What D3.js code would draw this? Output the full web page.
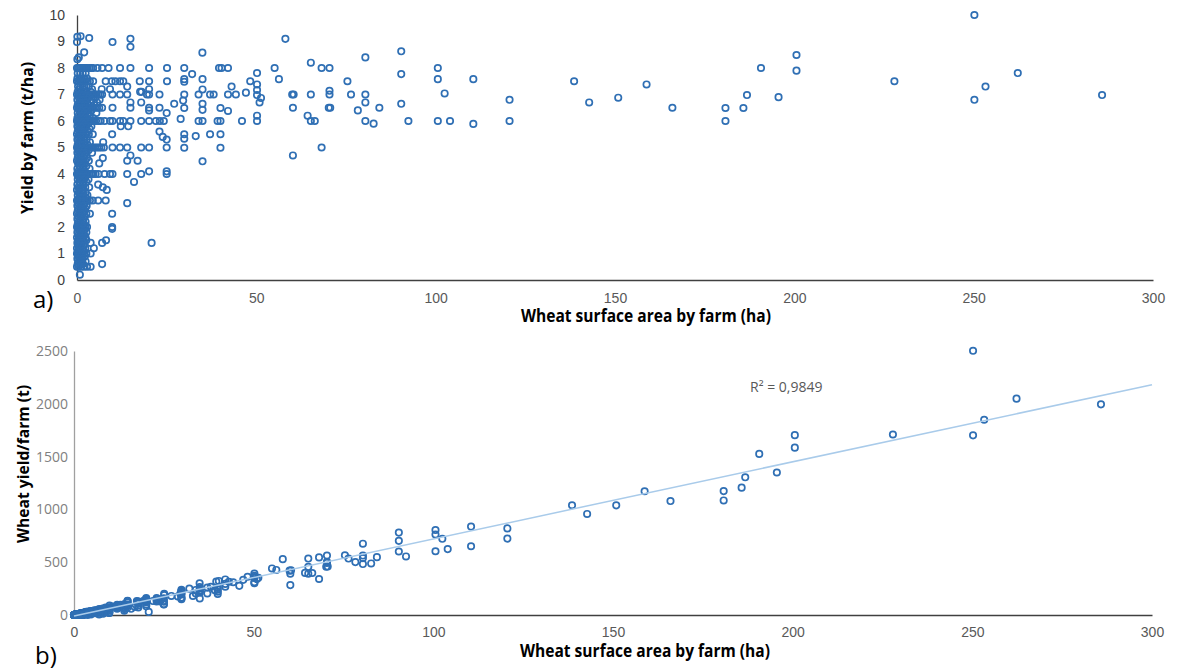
<!DOCTYPE html>
<html><head><meta charset="utf-8">
<script src="https://cdn.jsdelivr.net/npm/d3@7"></script>
<style>body{margin:0;background:#fff}svg{display:block}</style>
</head><body><svg id="c" width="1180" height="670"></svg>
<script>
// ---------- labels & ticks ----------
const xTicks = [0, 50, 100, 150, 200, 250, 300];
const yTicksA = [0, 1, 2, 3, 4, 5, 6, 7, 8, 9, 10];
const yTicksB = [0, 500, 1000, 1500, 2000, 2500];
const xTitle = "Wheat surface area by farm (ha)";
const yTitleA = "Yield by farm (t/ha)";
const yTitleB = "Wheat yield/farm (t)";
const panelA = "a)";
const panelB = "b)";
const r2Label = "R² = 0,9849";

// ---------- data: yield (t/ha) rows with farm areas (ha) ----------
const yieldRows = [
  [9.2, [1.0]], [9.18, [0.1]], [9.13, [3.4]], [9.1, [14.9]], [8.98, [0, 9.9]], [8.8, [14.9]],
  [8.59, [2.0]], [8.4, [0.5]], [8.33, [0.1]],
  [8.0, [0, 0.3, 0.6, 1, 1.4, 1.8, 2.2, 2.6, 3, 3.5, 4, 4.5, 5.7, 7, 8.8, 12, 14.9, 20.1, 25.1]],
  [7.8, [0.2, 0.9, 1.6, 2.4]],
  [7.6, [0.1, 0.7, 1.3, 2, 2.8]],
  [7.5, [0, 0.5, 1.1, 1.7, 2.3, 3, 3.6, 4.5, 8, 9.7, 10.7, 12, 12.9, 17.5, 20.1, 25.1]],
  [7.3, [0.3, 0.9, 1.5, 2.1, 2.7, 3.3, 14]],
  [7.2, [0.6, 1.8, 4.2, 6.9, 9.2, 20.1]],
  [7.1, [0.2, 1.2, 2.5, 3.8, 17.6, 18]],
  [7.0, [0, 0.4, 0.8, 1.2, 1.6, 2, 2.4, 2.8, 3.2, 3.6, 4, 4.5, 5, 5.5, 6, 6.5, 7, 9.9, 12, 14, 19.5, 20.1, 23]],
  [6.9, [0.5, 1.4, 2.2, 3.4, 5.2]],
  [6.8, [0.1, 1, 1.9, 2.9, 4.1, 6.3]],
  [6.7, [0.6, 1.5, 2.4, 3.7, 5.6, 14.9, 17.9]],
  [6.6, [0.2, 1.1, 2, 3, 4.8]],
  [6.5, [0, 0.4, 0.8, 1.3, 1.8, 2.3, 2.8, 3.3, 3.8, 4.3, 5, 5.6, 6.2, 7, 9.9, 14.9, 20.1, 23]],
  [6.4, [0.7, 1.6, 2.6, 4, 20.1]],
  [6.3, [0.2, 1.2, 2.1, 3.1, 5.4, 25]],
  [6.2, [0.5, 1.4, 2.4, 3.6]],
  [6.1, [0.1, 1, 1.9, 2.9, 4.6]],
  [6.0, [0, 0.3, 0.6, 1, 1.4, 1.8, 2.2, 2.6, 3, 3.4, 3.8, 4.2, 4.7, 5.3, 6, 6.6, 7.7, 9.2, 9.9, 12, 12.9, 14.9, 17.9, 20.1, 22, 23.1, 24.2]],
  [5.9, [0.4, 1.3, 2.3, 3.2]],
  [5.8, [0.1, 0.9, 1.7, 2.6, 4, 12.2, 14.3]],
  [5.7, [0.5, 1.4, 2.2, 3.5]],
  [5.6, [0.2, 1.1, 2, 3, 23]],
  [5.5, [0, 0.7, 1.5, 2.4, 3.3, 4.4, 9.8]],
  [5.4, [0.4, 1.2, 2.1, 23.9]],
  [5.3, [0.1, 0.9, 1.8, 2.7, 25]],
  [5.2, [0.5, 1.3, 2.2, 3.6, 7.3]],
  [5.1, [0.2, 1, 1.9, 2.9]],
  [5.0, [0, 0.3, 0.6, 1, 1.4, 1.8, 2.2, 2.6, 3, 3.4, 3.9, 4.4, 5, 5.6, 6.2, 6.8, 7.5, 9.9, 12, 14, 17.9, 20.1, 25]],
  [4.9, [0.4, 1.2, 2.1, 3.2]],
  [4.8, [0.1, 0.8, 1.6, 2.5, 4.2]],
  [4.7, [0.5, 1.3, 2.2, 14.9]],
  [4.6, [0.2, 1, 1.9, 2.8, 7.2]],
  [4.5, [0, 0.6, 1.4, 2.3, 3.3, 14, 16.9]],
  [4.4, [0.3, 1.1, 2, 6.2]],
  [4.3, [0.7, 1.6, 2.6]],
  [4.2, [0.1, 0.9, 1.8, 3.5]],
  [4.1, [0.4, 1.3, 2.2, 20.1, 25]],
  [4.0, [0, 0.3, 0.6, 1, 1.4, 1.8, 2.2, 2.6, 3, 3.5, 4, 4.6, 5.2, 6, 7.7, 9.2, 9.9, 14, 17.9, 25]],
  [3.9, [0.5, 1.5, 2.4]],
  [3.8, [0.2, 1.1, 2, 3.2]],
  [3.7, [0.7, 1.6, 2.6, 15.9]],
  [3.6, [0.1, 0.9, 1.8, 5.9]],
  [3.5, [0.4, 1.3, 2.3, 3.4, 7.2]],
  [3.4, [0, 0.8, 1.7, 8.3]],
  [3.3, [0.5, 1.4, 2.4]],
  [3.2, [0.2, 1, 1.9, 2.9]],
  [3.1, [0.6, 1.5, 2.5]],
  [3.0, [0, 0.3, 0.6, 1, 1.4, 1.8, 2.2, 2.6, 3, 3.6, 4.4, 5.9, 8]],
  [2.9, [0.4, 1.3, 2.2, 14]],
  [2.8, [0.1, 0.9, 1.8, 2.7]],
  [2.7, [0.5, 1.4, 2.3]],
  [2.6, [0.2, 1.1, 2]],
  [2.5, [0, 0.7, 1.6, 2.6, 3.6, 9.8]],
  [2.4, [0.4, 1.3, 2.2]],
  [2.3, [0.1, 0.9, 1.8]],
  [2.2, [0.5, 1.5, 2.4]],
  [2.1, [0.2, 1.1, 2]],
  [2.0, [0, 0.3, 0.6, 1, 1.4, 1.8, 2.3, 2.8, 9.8]],
  [1.93, [9.8]],
  [1.9, [0.5, 1.3, 2.1]],
  [1.8, [0.1, 0.9, 1.7, 2.6]],
  [1.7, [0.4, 1.2, 2]],
  [1.6, [0, 0.8, 1.6, 2.4]],
  [1.5, [0.3, 1, 1.8, 2.6, 8.1]],
  [1.4, [0.1, 0.7, 1.4, 3.8, 7, 20.8]],
  [1.3, [0.4, 1.1, 1.9]],
  [1.2, [0, 0.7, 1.5, 2.3, 4.7]],
  [1.1, [0.3, 1, 1.8]],
  [1.0, [0, 0.3, 0.6, 1, 1.5, 2, 2.6, 3.8]],
  [0.9, [0.4, 1.2, 2.2]],
  [0.8, [0.1, 0.8, 1.6]],
  [0.7, [0.5, 1.3, 2.4]],
  [0.6, [0.2, 0.9, 1.7, 7]],
  [0.5, [0, 0.5, 1.1, 1.9, 2.8, 3.8]],
  [0.2, [0.8]]
];

// larger farms: [area (ha), yield (t/ha)]
const largeFarms = [
  [58.1, 9.1], [34.96, 8.58], [29.9, 8.0], [39.6, 8.0], [40.3, 8.0], [42.1, 8.0], [55.1, 8.0],
  [32.1, 7.77], [50.2, 7.81], [29.9, 7.58], [29.9, 7.48], [35.0, 7.58], [56.3, 7.58], [48.3, 7.5],
  [43.1, 7.3], [50.2, 7.38], [35.0, 7.19], [50.2, 7.17], [29.9, 7.0], [33.9, 7.0], [37.1, 7.0],
  [38.1, 7.0], [42.1, 7.0], [44.3, 7.0], [47.1, 7.07], [50.2, 6.98], [51.3, 6.87], [50.9, 6.7],
  [27.1, 6.65], [29.6, 6.77], [29.9, 6.49], [35.0, 6.65], [35.0, 6.42], [40.0, 6.49], [42.1, 6.38],
  [28.9, 6.08], [33.9, 6.0], [35.0, 6.0], [39.2, 6.0], [40.0, 6.0], [46.0, 6.0], [50.2, 6.2],
  [50.2, 6.0], [29.9, 5.5], [29.9, 5.33], [33.1, 5.43], [37.1, 5.5], [40.0, 5.5], [29.9, 4.99],
  [40.0, 4.99], [35.0, 4.48],
  [60.0, 7.0], [60.4, 7.0], [60.2, 6.5], [60.2, 4.7], [65.2, 8.2], [68.2, 8.0], [70.4, 8.0],
  [75.4, 7.5], [65.2, 7.0], [70.4, 7.14], [70.4, 7.0], [70.2, 6.5], [70.6, 6.5], [76.4, 7.0],
  [64.3, 6.2], [65.2, 6.0], [66.3, 6.0], [68.2, 5.0], [80.4, 8.4], [80.4, 7.0], [80.4, 6.7],
  [78.3, 6.4], [80.4, 6.0], [82.7, 5.9], [84.3, 6.5], [90.4, 8.63], [90.4, 7.77], [90.4, 6.65],
  [92.4, 6.0], [100.6, 8.0], [100.6, 7.58], [102.5, 7.04], [100.6, 6.0], [104.0, 6.0],
  [110.5, 7.58], [110.5, 5.89], [120.6, 6.8], [120.6, 6.0], [138.6, 7.5], [142.8, 6.7],
  [150.9, 6.88], [158.8, 7.38], [166.0, 6.5], [180.8, 6.49], [180.8, 6.0], [185.8, 6.49],
  [186.8, 6.98], [190.7, 8.0], [195.6, 6.9], [200.6, 8.49], [200.6, 7.9], [227.9, 7.5],
  [250.2, 10.0], [250.2, 6.8], [253.3, 7.3], [262.3, 7.81], [285.8, 6.98]
];

// ---------- build table ----------
const farms = [];
yieldRows.forEach(([y, areas]) => areas.forEach(a => farms.push({ ha: a, y: y })));
largeFarms.forEach(([a, y]) => farms.push({ ha: a, y: y }));
farms.forEach(d => { d.t = d.ha * d.y; });

// linear least-squares trendline of production vs area
const mx = d3.mean(farms, d => d.ha), mt = d3.mean(farms, d => d.t);
const slope = d3.sum(farms, d => (d.ha - mx) * (d.t - mt)) / d3.sum(farms, d => (d.ha - mx) ** 2);
const intercept = mt - slope * mx;

const svg = d3.select("#c");
svg.append("rect").attr("width", 1180).attr("height", 670).attr("fill", "#fff");

const BLUE = "#2f6fb4";
const R = 3.2, SW = 1.7;
const sans = "'Open Sans',sans-serif";

// ---------- panel a ----------
const xA = d3.scaleLinear().domain([0, 300]).range([77, 1153]);
const yA = d3.scaleLinear().domain([0, 10]).range([280, 15]);

const gA = svg.append("g");
const axXA = gA.append("g").attr("transform", "translate(0,280)")
  .call(d3.axisBottom(xA).tickValues(xTicks).tickFormat(d3.format("d")).tickSize(0).tickSizeOuter(0).tickPadding(13));
axXA.select(".domain").attr("stroke", "#404040").attr("stroke-width", 1.3);
axXA.selectAll("text").attr("font-family", "'Liberation Sans',sans-serif").attr("font-size", 14).attr("fill", "#595959");

const axYA = gA.append("g").attr("transform", "translate(77,0)")
  .call(d3.axisLeft(yA).tickValues(yTicksA).tickFormat(d3.format("d")).tickSize(0).tickSizeOuter(0).tickPadding(12));
axYA.select(".domain").attr("stroke", "#404040").attr("stroke-width", 1.3);
axYA.selectAll("text").attr("font-family", "'Liberation Sans',sans-serif").attr("font-size", 14).attr("fill", "#404040");

gA.append("g").selectAll("circle").data(farms).join("circle")
  .attr("cx", d => xA(d.ha)).attr("cy", d => yA(d.y)).attr("r", R)
  .attr("fill", "none").attr("stroke", BLUE).attr("stroke-width", SW);

gA.append("text").attr("x", 646).attr("y", 322).attr("text-anchor", "middle")
  .attr("font-family", sans).attr("font-weight", "bold").attr("font-size", 17)
  .attr("textLength", 250).attr("lengthAdjust", "spacingAndGlyphs")
  .attr("fill", "#000").text(xTitle);
gA.append("text").attr("transform", "translate(33,138) rotate(-90)").attr("text-anchor", "middle")
  .attr("font-family", sans).attr("font-weight", "bold").attr("font-size", 16)
  .attr("textLength", 152).attr("lengthAdjust", "spacingAndGlyphs")
  .attr("fill", "#000").text(yTitleA);
gA.append("text").attr("x", 33).attr("y", 308)
  .attr("font-family", sans).attr("font-size", 24).attr("fill", "#000").text(panelA);

// ---------- panel b ----------
const xB = d3.scaleLinear().domain([0, 300]).range([74, 1152]);
const yB = d3.scaleLinear().domain([0, 2500]).range([615, 351]);

const gB = svg.append("g");
const axXB = gB.append("g").attr("transform", "translate(0,615)")
  .call(d3.axisBottom(xB).tickValues(xTicks).tickFormat(d3.format("d")).tickSize(0).tickSizeOuter(0).tickPadding(12));
axXB.select(".domain").attr("stroke", "#404040").attr("stroke-width", 1.3);
axXB.selectAll("text").attr("font-family", "'Liberation Sans',sans-serif").attr("font-size", 14).attr("fill", "#595959");

const axYB = gB.append("g").attr("transform", "translate(74,0)")
  .call(d3.axisLeft(yB).tickValues(yTicksB).tickFormat(d3.format("d")).tickSize(0).tickSizeOuter(0).tickPadding(6));
axYB.select(".domain").attr("stroke", "#a0a0a0").attr("stroke-width", 1.3);
axYB.selectAll("text").attr("font-family", sans).attr("font-size", 14).attr("fill", "#808080");

gB.append("g").selectAll("circle").data(farms).join("circle")
  .attr("cx", d => xB(d.ha)).attr("cy", d => yB(d.t)).attr("r", R)
  .attr("fill", "none").attr("stroke", BLUE).attr("stroke-width", SW);

const trend = [0, 300].map(a => ({ ha: a, t: intercept + slope * a }));
gB.append("path").datum(trend)
  .attr("d", d3.line().x(d => xB(d.ha)).y(d => yB(d.t)))
  .attr("stroke", "#a9cbea").attr("stroke-width", 1.5).attr("fill", "none");

gB.append("text").attr("x", 750).attr("y", 392)
  .attr("font-family", sans).attr("font-size", 14).attr("fill", "#595959").text(r2Label);

gB.append("text").attr("x", 645).attr("y", 657).attr("text-anchor", "middle")
  .attr("font-family", sans).attr("font-weight", "bold").attr("font-size", 17)
  .attr("textLength", 250).attr("lengthAdjust", "spacingAndGlyphs")
  .attr("fill", "#000").text(xTitle);
gB.append("text").attr("transform", "translate(29,464) rotate(-90)").attr("text-anchor", "middle")
  .attr("font-family", sans).attr("font-weight", "bold").attr("font-size", 16)
  .attr("textLength", 158).attr("lengthAdjust", "spacingAndGlyphs")
  .attr("fill", "#000").text(yTitleB);
gB.append("text").attr("x", 35).attr("y", 664)
  .attr("font-family", sans).attr("font-size", 24).attr("fill", "#000").text(panelB);
</script></body></html>
